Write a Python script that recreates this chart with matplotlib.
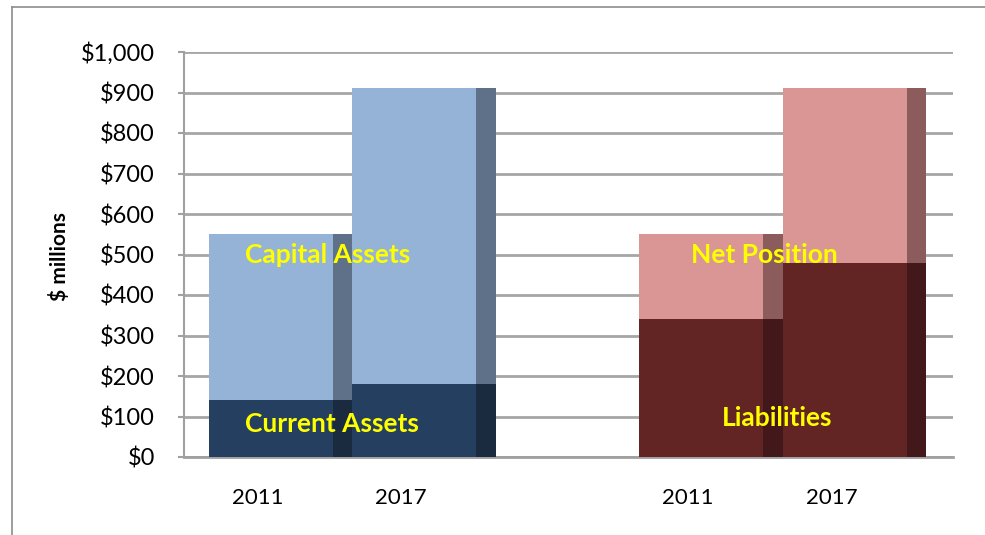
import numpy as np
import matplotlib
matplotlib.use("Agg")
import matplotlib.pyplot as plt
from matplotlib.lines import Line2D

plt.rcParams['font.family'] = ['Lato', 'DejaVu Sans']

# data ($ millions)
years = ["2011", "2017", "2011", "2017"]
slots = [0, 1, 3, 4]          # slot 2 is the gap between the groups
current_assets = [140, 180]
capital_assets = [410, 730]   # stacked on top of current assets
liabilities = [340, 480]
net_position = [210, 430]     # stacked on top of liabilities
yticks = [0, 100, 200, 300, 400, 500, 600, 700, 800, 900, 1000]
ytick_labels = ["$0", "$100", "$200", "$300", "$400", "$500", "$600",
                "$700", "$800", "$900", "$1,000"]
seg_labels = ["Capital Assets", "Current Assets", "Net Position", "Liabilities"]
seg_label_pos = [(0.83, 500), (0.86, 82), (3.87, 500), (3.96, 97)]

front = 0.864
side = 1 - front

fig = plt.figure(figsize=(9.85, 5.35), dpi=100)
ax = fig.add_axes([184/985, 1 - 457/535, (953 - 184)/985, (457 - 52)/535])

# outer frame (left and top edges visible)
fig.add_artist(Line2D([12/985, 12/985], [0, 1 - 7/535], transform=fig.transFigure,
                      color="#8c8c8c", lw=1.2))
fig.add_artist(Line2D([12/985, 1], [1 - 7/535, 1 - 7/535], transform=fig.transFigure,
                      color="#8c8c8c", lw=1.2))

blue_pos = np.array(slots[:2], dtype=float)
red_pos = np.array(slots[2:], dtype=float)


def stacked(pos, low, high, c_low, c_low_side, c_high, c_high_side):
    ax.bar(pos, low, width=front, align="edge", color=c_low, zorder=3)
    ax.bar(pos + front, low, width=side, align="edge", color=c_low_side, zorder=3)
    ax.bar(pos, high, bottom=low, width=front, align="edge", color=c_high, zorder=3)
    ax.bar(pos + front, high, bottom=low, width=side, align="edge",
           color=c_high_side, zorder=3)


stacked(blue_pos, current_assets, capital_assets,
        "#243f60", "#1a2a3f", "#95b3d7", "#5f7189")
stacked(red_pos, liabilities, net_position,
        "#632523", "#43181a", "#d99694", "#8c5c5c")

for txt, (x, y) in zip(seg_labels, seg_label_pos):
    ax.text(x, y, txt, color="#ffff00", fontsize=19, fontweight="bold",
            ha="center", va="center", zorder=5)

ax.set_xlim(-0.174, 5.185)
ax.set_ylim(0, 1000)
ax.set_yticks(yticks)
ax.set_yticklabels(ytick_labels, fontsize=17)
ax.set_xticks(np.array(slots) + 0.34)
ax.set_xticklabels(years, fontsize=16)
ax.tick_params(axis="x", length=0, pad=22)
ax.tick_params(axis="y", length=4, width=1.5, color="#a0a0a0", pad=17)
for lab in ax.get_yticklabels():
    lab.set_horizontalalignment("right")

ax.grid(axis="y", color="#a6a6a6", lw=2, zorder=1)
ax.set_axisbelow(True)
for s in ["top", "right"]:
    ax.spines[s].set_visible(False)
ax.spines["left"].set_color("#a0a0a0")
ax.spines["left"].set_linewidth(1.5)
ax.spines["bottom"].set_color("#a0a0a0")
ax.spines["bottom"].set_linewidth(2)
ax.set_ylabel("$ millions", fontsize=15, fontweight="bold")
ax.yaxis.set_label_coords(-0.148, 0.494)

fig.savefig("out.png", dpi=100)
